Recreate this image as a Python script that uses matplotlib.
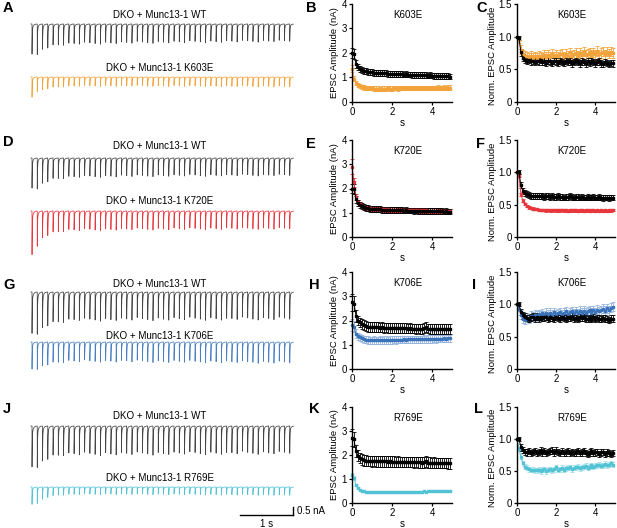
import numpy as np
import matplotlib
matplotlib.use("Agg")
from matplotlib import pyplot as plt

plt.rcParams['font.family'] = ['Liberation Sans', 'DejaVu Sans']

# stimulus times, 50 pulses at 10 Hz
t = np.arange(50) * 0.1

# --- B: EPSC amplitude (nA), WT vs K603E
B_wt = [2.00, 1.95, 1.55, 1.42, 1.35, 1.30, 1.27, 1.25, 1.23, 1.22,
        1.21, 1.20, 1.20, 1.19, 1.18, 1.18, 1.17, 1.17, 1.16, 1.16,
        1.15, 1.15, 1.14, 1.14, 1.13, 1.13, 1.12, 1.13, 1.12, 1.12,
        1.11, 1.11, 1.10, 1.11, 1.10, 1.10, 1.09, 1.09, 1.08, 1.09,
        1.08, 1.07, 1.07, 1.07, 1.06, 1.06, 1.05, 1.06, 1.05, 1.04]
B_wt_sem = [0.22, 0.20, 0.16] + [0.12] * 47
B_mut = [1.35, 0.95, 0.78, 0.70, 0.65, 0.62, 0.60, 0.58, 0.57, 0.56,
         0.56, 0.55, 0.55, 0.55, 0.54, 0.55, 0.55, 0.55, 0.56, 0.55,
         0.55, 0.56, 0.56, 0.55, 0.56, 0.56, 0.57, 0.56, 0.56, 0.57,
         0.57, 0.57, 0.56, 0.57, 0.58, 0.57, 0.57, 0.58, 0.58, 0.57,
         0.58, 0.58, 0.58, 0.59, 0.58, 0.58, 0.59, 0.58, 0.59, 0.59]
B_mut_sem = [0.14, 0.11] + [0.09] * 48

# --- C: normalized
C_wt = [1.00, 0.98, 0.76, 0.68, 0.65, 0.63, 0.64, 0.62, 0.63, 0.61,
        0.63, 0.62, 0.64, 0.61, 0.62, 0.60, 0.63, 0.62, 0.60, 0.63,
        0.62, 0.60, 0.63, 0.61, 0.60, 0.63, 0.61, 0.62, 0.59, 0.61,
        0.63, 0.61, 0.59, 0.62, 0.61, 0.59, 0.62, 0.60, 0.63, 0.61,
        0.59, 0.61, 0.62, 0.59, 0.58, 0.61, 0.60, 0.58, 0.60, 0.59]
C_wt_sem = [0.0, 0.03] + [0.05] * 48
C_mut = [1.00, 0.95, 0.80, 0.73, 0.71, 0.70, 0.68, 0.71, 0.68, 0.70,
         0.68, 0.71, 0.70, 0.68, 0.72, 0.69, 0.72, 0.69, 0.74, 0.70,
         0.72, 0.70, 0.73, 0.74, 0.70, 0.74, 0.71, 0.76, 0.71, 0.73,
         0.75, 0.71, 0.75, 0.72, 0.77, 0.72, 0.74, 0.76, 0.72, 0.76,
         0.73, 0.78, 0.73, 0.75, 0.77, 0.73, 0.77, 0.74, 0.77, 0.75]
C_mut_sem = [0.0, 0.04] + [0.07] * 48

# --- E: amplitude, WT vs K720E
E_wt = [2.00, 1.98, 1.55, 1.40, 1.32, 1.27, 1.23, 1.20, 1.18, 1.17,
        1.16, 1.15, 1.15, 1.14, 1.14, 1.13, 1.13, 1.12, 1.12, 1.12,
        1.11, 1.11, 1.11, 1.10, 1.10, 1.10, 1.09, 1.10, 1.09, 1.09,
        1.09, 1.08, 1.09, 1.08, 1.08, 1.08, 1.07, 1.08, 1.07, 1.07,
        1.07, 1.06, 1.07, 1.06, 1.06, 1.06, 1.05, 1.06, 1.05, 1.05]
E_wt_sem = [0.20, 0.20, 0.15] + [0.12] * 47
E_mut = [2.90, 2.25, 1.65, 1.45, 1.35, 1.28, 1.24, 1.21, 1.19, 1.18,
         1.17, 1.16, 1.16, 1.15, 1.15, 1.15, 1.14, 1.14, 1.14, 1.13,
         1.13, 1.13, 1.13, 1.12, 1.12, 1.12, 1.12, 1.11, 1.11, 1.11,
         1.11, 1.11, 1.10, 1.10, 1.10, 1.10, 1.10, 1.10, 1.09, 1.09,
         1.09, 1.09, 1.09, 1.08, 1.08, 1.08, 1.08, 1.08, 1.08, 1.07]
E_mut_sem = [0.30, 0.20, 0.12] + [0.09] * 47

# --- F: normalized
F_wt = [1.00, 1.00, 0.80, 0.71, 0.68, 0.66, 0.65, 0.64, 0.64, 0.63,
        0.63, 0.64, 0.63, 0.63, 0.62, 0.63, 0.63, 0.62, 0.63, 0.62,
        0.62, 0.63, 0.62, 0.62, 0.61, 0.62, 0.62, 0.63, 0.62, 0.61,
        0.62, 0.62, 0.61, 0.62, 0.61, 0.61, 0.62, 0.61, 0.61, 0.62,
        0.61, 0.61, 0.62, 0.61, 0.60, 0.61, 0.61, 0.60, 0.61, 0.61]
F_wt_sem = [0.0, 0.03] + [0.045] * 48
F_mut = [1.00, 0.95, 0.66, 0.56, 0.51, 0.48, 0.46, 0.45, 0.44, 0.43,
         0.43, 0.42, 0.42, 0.42, 0.42, 0.41, 0.42, 0.41, 0.41, 0.42,
         0.41, 0.41, 0.41, 0.42, 0.41, 0.41, 0.40, 0.41, 0.41, 0.41,
         0.41, 0.40, 0.41, 0.41, 0.40, 0.41, 0.41, 0.40, 0.41, 0.41,
         0.40, 0.41, 0.40, 0.41, 0.40, 0.41, 0.40, 0.41, 0.41, 0.42]
F_mut_sem = [0.0, 0.02] + [0.02] * 48

# --- H: amplitude, WT vs K706E
H_wt = [2.75, 2.70, 2.20, 2.00, 1.92, 1.86, 1.82, 1.78, 1.74, 1.72,
        1.74, 1.73, 1.72, 1.72, 1.71, 1.72, 1.70, 1.71, 1.70, 1.70,
        1.69, 1.70, 1.69, 1.69, 1.68, 1.69, 1.68, 1.68, 1.67, 1.68,
        1.67, 1.67, 1.66, 1.67, 1.66, 1.66, 1.68, 1.72, 1.67, 1.66,
        1.66, 1.65, 1.66, 1.65, 1.65, 1.64, 1.65, 1.64, 1.64, 1.64]
H_wt_sem = [0.35, 0.30, 0.25] + [0.20] * 47
H_mut = [1.80, 1.75, 1.45, 1.35, 1.30, 1.26, 1.23, 1.21, 1.20, 1.19,
         1.19, 1.20, 1.19, 1.19, 1.20, 1.19, 1.20, 1.20, 1.19, 1.20,
         1.20, 1.21, 1.20, 1.21, 1.21, 1.21, 1.22, 1.21, 1.22, 1.22,
         1.22, 1.23, 1.22, 1.23, 1.23, 1.23, 1.24, 1.23, 1.24, 1.24,
         1.24, 1.25, 1.24, 1.25, 1.25, 1.25, 1.26, 1.25, 1.26, 1.26]
H_mut_sem = [0.25, 0.22, 0.18] + [0.15] * 47

# --- I: normalized
I_wt = [1.00, 1.00, 0.88, 0.83, 0.81, 0.79, 0.78, 0.80, 0.81, 0.78,
        0.81, 0.78, 0.81, 0.79, 0.80, 0.81, 0.78, 0.80, 0.79, 0.78,
        0.81, 0.79, 0.78, 0.81, 0.79, 0.78, 0.80, 0.79, 0.81, 0.78,
        0.79, 0.77, 0.80, 0.79, 0.80, 0.78, 0.77, 0.79, 0.78, 0.80,
        0.77, 0.79, 0.78, 0.77, 0.79, 0.78, 0.77, 0.76, 0.78, 0.78]
I_wt_sem = [0.0, 0.03] + [0.05] * 48
I_mut = [1.00, 0.93, 0.84, 0.78, 0.76, 0.79, 0.78, 0.82, 0.81, 0.84,
         0.82, 0.85, 0.83, 0.86, 0.83, 0.87, 0.84, 0.87, 0.84, 0.88,
         0.85, 0.86, 0.88, 0.85, 0.87, 0.89, 0.85, 0.88, 0.89, 0.86,
         0.89, 0.86, 0.90, 0.87, 0.90, 0.87, 0.89, 0.91, 0.87, 0.91,
         0.88, 0.92, 0.89, 0.91, 0.93, 0.90, 0.94, 0.91, 0.95, 0.96]
I_mut_sem = [0.0, 0.04] + [0.07] * 48

# --- K: amplitude, WT vs R769E
K_wt = [2.72, 2.65, 2.15, 1.97, 1.88, 1.82, 1.78, 1.76, 1.75, 1.75,
        1.74, 1.75, 1.74, 1.74, 1.73, 1.74, 1.73, 1.73, 1.72, 1.73,
        1.72, 1.72, 1.71, 1.72, 1.71, 1.71, 1.70, 1.71, 1.70, 1.70,
        1.70, 1.69, 1.70, 1.69, 1.69, 1.68, 1.69, 1.73, 1.68, 1.68,
        1.67, 1.68, 1.67, 1.67, 1.66, 1.67, 1.66, 1.66, 1.65, 1.65]
K_wt_sem = [0.35, 0.30, 0.25] + [0.22] * 47
K_mut = [1.15, 1.05, 0.75, 0.62, 0.55, 0.51, 0.49, 0.47, 0.46, 0.46,
         0.45, 0.45, 0.45, 0.44, 0.45, 0.44, 0.45, 0.44, 0.45, 0.45,
         0.45, 0.44, 0.45, 0.45, 0.46, 0.45, 0.46, 0.45, 0.46, 0.46,
         0.46, 0.47, 0.46, 0.47, 0.47, 0.47, 0.48, 0.47, 0.48, 0.48,
         0.48, 0.49, 0.48, 0.49, 0.49, 0.50, 0.49, 0.50, 0.50, 0.50]
K_mut_sem = [0.12, 0.08, 0.05] + [0.03] * 47

# --- L: normalized
L_wt = [1.00, 1.00, 0.87, 0.83, 0.80, 0.79, 0.81, 0.78, 0.80, 0.81,
        0.78, 0.80, 0.82, 0.79, 0.81, 0.78, 0.80, 0.81, 0.82, 0.79,
        0.82, 0.80, 0.78, 0.81, 0.78, 0.79, 0.81, 0.78, 0.80, 0.78,
        0.79, 0.81, 0.78, 0.79, 0.81, 0.78, 0.77, 0.79, 0.81, 0.78,
        0.79, 0.80, 0.77, 0.79, 0.80, 0.77, 0.79, 0.78, 0.77, 0.78]
L_wt_sem = [0.0, 0.03] + [0.05] * 48
L_mut = [1.00, 0.85, 0.72, 0.62, 0.57, 0.55, 0.53, 0.52, 0.52, 0.51,
         0.51, 0.52, 0.50, 0.52, 0.53, 0.50, 0.52, 0.53, 0.51, 0.53,
         0.56, 0.52, 0.53, 0.55, 0.52, 0.54, 0.55, 0.56, 0.53, 0.55,
         0.56, 0.57, 0.54, 0.56, 0.57, 0.58, 0.55, 0.57, 0.59, 0.57,
         0.58, 0.59, 0.60, 0.58, 0.59, 0.61, 0.59, 0.60, 0.62, 0.60]
L_mut_sem = [0.0, 0.04] + [0.04] * 48

mutants = ['K603E', 'K720E', 'K706E', 'R769E']
colors = ['#F2A33A', '#E8363D', '#3B73BA', '#52C3D5']
err_colors = ['#F2A33A', '#E8363D', '#93B4DE', '#A4E0E8']
trace_colors = ['#F2A33A', '#E8363D', '#4A80C2', '#52C3D5']
WT_TRACE = '#444444'

W, H = 617, 528
fig = plt.figure(figsize=(W / 100, H / 100), dpi=100)


def px_axes(left, top, right, bottom):
    return fig.add_axes([left / W, 1 - bottom / H, (right - left) / W, (bottom - top) / H])


# ---------------- example traces (left column) ----------------
PX_S = 52.6     # pixels per second
PX_NA = 17.0    # pixels per nA
X0 = 32         # pixel x of first stimulus

axT = px_axes(0, 0, 300, H)
axT.set_xlim(-X0 / PX_S, (300 - X0) / PX_S)
axT.set_ylim(-H / PX_NA, 0)
axT.axis('off')

tt = np.linspace(-0.02, 4.97, 8000)


def epsc_trace(amps):
    cur = np.zeros_like(tt)
    for ti, a in zip(t, amps):
        dt = tt - ti
        m = dt >= 0
        cur[m] += a * (0.8 * np.exp(-dt[m] / 0.004) + 0.2 * np.exp(-dt[m] / 0.02))
    return cur


def py(p):
    return -p / PX_NA


def px(p):
    return (p - X0) / PX_S


trace_amps = [(B_wt, B_mut), (E_wt, E_mut), (H_wt, H_mut), (K_wt, K_mut)]
# (wt title, wt baseline, mut title, mut baseline) pixel rows
rows_px = [(15, 24, 68, 77), (146, 158, 201, 211), (284, 292, 336, 342), (416, 426, 478, 487)]

for (wt_a, mut_a), name, tc, (ty1, b1, ty2, b2) in zip(trace_amps, mutants, trace_colors, rows_px):
    axT.text(px(160), py(ty1), 'DKO + Munc13-1 WT', ha='center', va='center', fontsize=7)
    axT.plot(tt, py(b1) - epsc_trace(wt_a), color=WT_TRACE, lw=0.55)
    axT.text(px(160), py(ty2), 'DKO + Munc13-1 ' + name, ha='center', va='center', fontsize=7)
    axT.plot(tt, py(b2) - epsc_trace(mut_a), color=tc, lw=0.55)

# scale bar
sb_x, sb_y = px(293), py(515)
axT.plot([sb_x - 1, sb_x], [sb_y, sb_y], color='black', lw=1)
axT.plot([sb_x, sb_x], [sb_y, sb_y + 0.5], color='black', lw=1)
axT.text(sb_x - 0.5, sb_y - 0.25, '1 s', ha='center', va='top', fontsize=7)
axT.text(sb_x + 0.07, sb_y + 0.25, '0.5 nA', ha='left', va='center', fontsize=7)

# ---------------- summary plots ----------------
amp_data = [(B_wt, B_wt_sem, B_mut, B_mut_sem), (E_wt, E_wt_sem, E_mut, E_mut_sem),
            (H_wt, H_wt_sem, H_mut, H_mut_sem), (K_wt, K_wt_sem, K_mut, K_mut_sem)]
norm_data = [(C_wt, C_wt_sem, C_mut, C_mut_sem), (F_wt, F_wt_sem, F_mut, F_mut_sem),
             (I_wt, I_wt_sem, I_mut, I_mut_sem), (L_wt, L_wt_sem, L_mut, L_mut_sem)]
row_box = [(4, 102), (140, 237), (272, 369), (407, 503)]


def style(ax):
    for s in ['top', 'right']:
        ax.spines[s].set_visible(False)
    for s in ['left', 'bottom']:
        ax.spines[s].set_linewidth(1.0)
    ax.tick_params(direction='out', length=2.5, width=0.9, labelsize=7, pad=1)
    ax.set_xlim(0, 5)
    ax.set_xticks([0, 2, 4])
    ax.set_xlabel('s', fontsize=7, labelpad=1)


def draw_series(ax, y, e, col, ecol):
    ax.errorbar(t, y, yerr=e, fmt='-s', color=col, ecolor=ecol, ms=1.8, lw=0.7,
                elinewidth=0.6, capsize=1.2, capthick=0.6, clip_on=False)


for i in range(4):
    top, bot = row_box[i]
    axA = px_axes(352, top, 452, bot)
    wt, wts, mu, mus = amp_data[i]
    draw_series(axA, mu, mus, colors[i], err_colors[i])
    draw_series(axA, wt, wts, 'black', 'black')
    style(axA)
    axA.set_ylim(0, 4)
    axA.set_yticks([0, 1, 2, 3, 4])
    axA.set_ylabel('EPSC Amplitude (nA)', fontsize=6.8, labelpad=2)
    axA.text(0.56, 0.89, mutants[i], transform=axA.transAxes, ha='center', va='center', fontsize=7)

    axN = px_axes(517, top, 615, bot)
    wt, wts, mu, mus = norm_data[i]
    draw_series(axN, mu, mus, colors[i], err_colors[i])
    draw_series(axN, wt, wts, 'black', 'black')
    style(axN)
    axN.set_ylim(0, 1.5)
    axN.set_yticks([0, 0.5, 1.0, 1.5])
    axN.set_yticklabels(['0', '0.5', '1.0', '1.5'])
    axN.set_ylabel('Norm. EPSC Amplitude', fontsize=6.8, labelpad=1.5)
    axN.yaxis.set_label_coords(-0.2, 0.47)
    axN.text(0.56, 0.89, mutants[i], transform=axN.transAxes, ha='center', va='center', fontsize=7)

# panel letters
letters = [('A', 3, 8), ('B', 306, 8), ('C', 476, 8),
           ('D', 3, 142), ('E', 306, 144), ('F', 476, 144),
           ('G', 3, 285), ('H', 309, 285), ('I', 472, 285),
           ('J', 3, 409), ('K', 309, 409), ('L', 474, 409)]
for lab, lx, ly in letters:
    fig.text(lx / W, 1 - ly / H, lab, fontsize=10.5, fontweight='bold', ha='left', va='center')

fig.savefig('out.png', dpi=100)
